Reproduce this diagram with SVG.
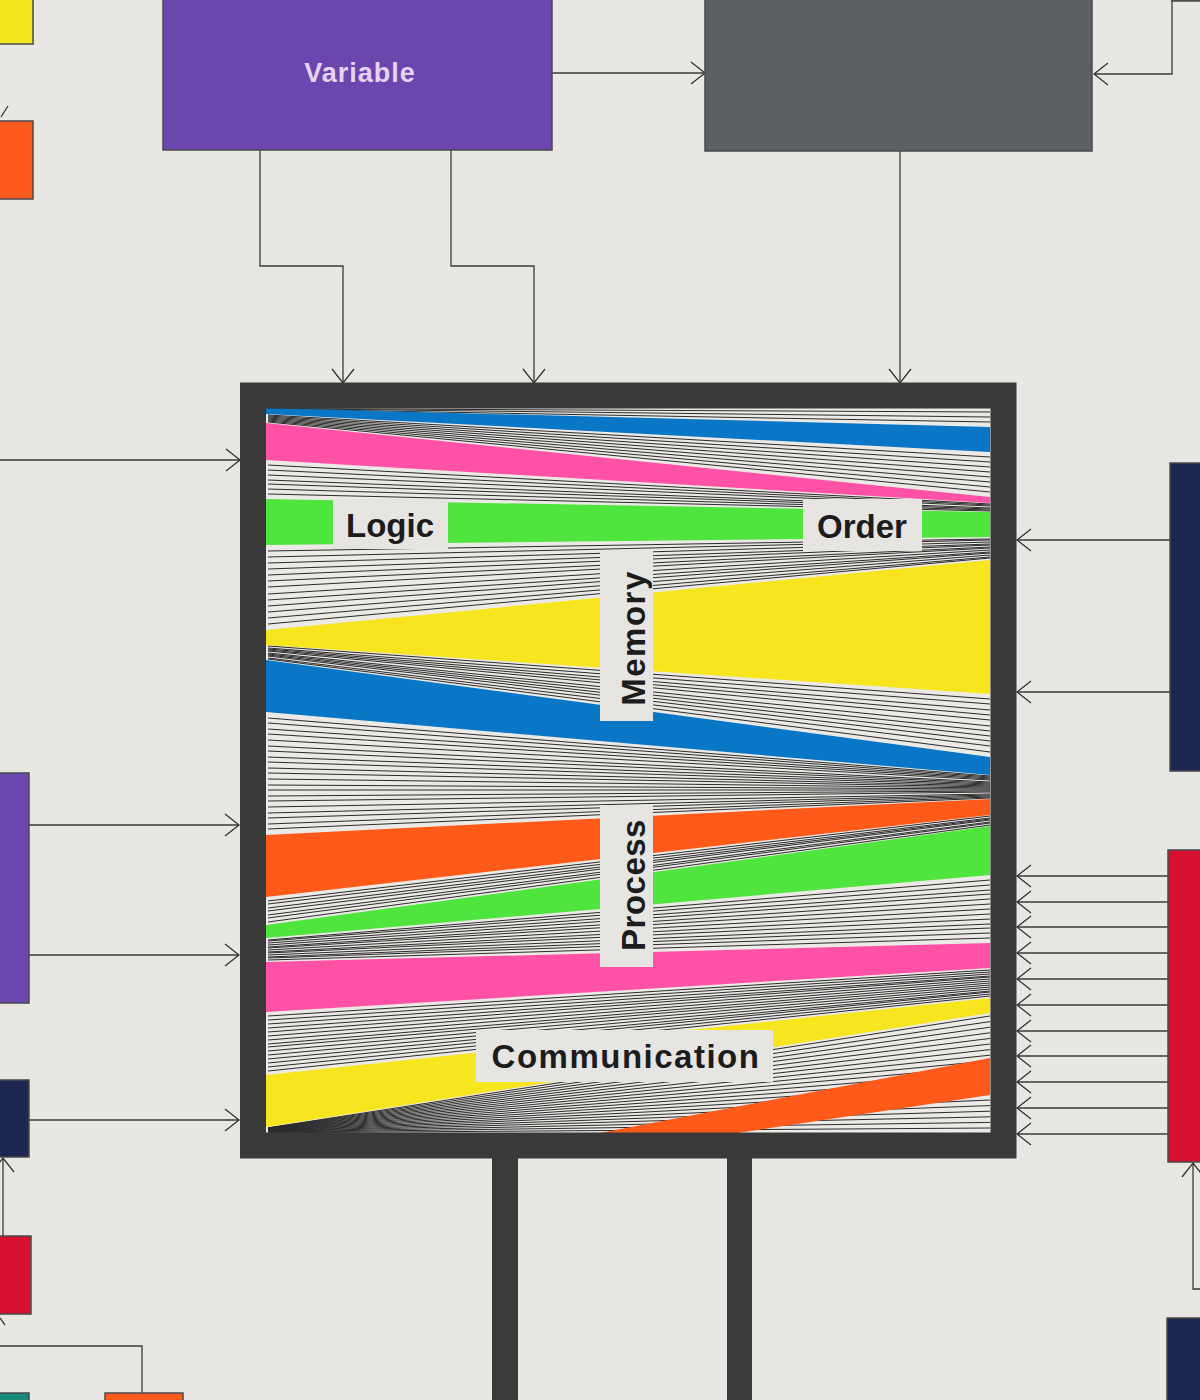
<svg xmlns="http://www.w3.org/2000/svg" width="1200" height="1400" viewBox="0 0 1200 1400">
<defs>
<marker id="ah" viewBox="-16 -12 18 24" refX="0" refY="0" markerWidth="18" markerHeight="24" markerUnits="userSpaceOnUse" orient="auto">
<path d="M-14,-11 L0,0 L-14,11" fill="none" stroke="#333" stroke-width="1.3"/>
</marker>
<style>
.conn{fill:none;stroke:#3a3a3a;stroke-width:1.3}
.arr{marker-end:url(#ah)}
.box{stroke:#4a4a4a;stroke-width:1.5}
.hatch{fill:none;stroke:#2b2b2b;stroke-width:1}
.lbl{fill:#e6e5e2}
.txt{font-family:"Liberation Sans",Arial,sans-serif;font-weight:bold;font-size:33px;fill:#1c1c1c;text-anchor:middle}
.pencil{fill:#3b3b3b}
</style>
</defs>
<rect x="0" y="0" width="1200" height="1400" fill="#e8e7e4"/>

<g id="connectors">
<path class="conn arr" d="M260,150 V266 H343 V383"/>
<path class="conn arr" d="M451,150 V266 H534 V383"/>
<path class="conn arr" d="M900,151 V383"/>
<path class="conn arr" d="M552,73 H705"/>
<path class="conn arr" d="M1172,0 V74 H1094"/>
<path class="conn arr" d="M0,460 H240"/>
<path class="conn arr" d="M29,825 H239"/>
<path class="conn arr" d="M29,955 H239"/>
<path class="conn arr" d="M29,1120 H239"/>
<path class="conn arr" d="M3,1236 V1158"/>
<path class="conn" d="M0,1346 H142 V1393"/>
<path class="conn" d="M1,117 L8,106"/>
<path class="conn" d="M0,1318 L5,1325"/>
<path class="conn arr" d="M1170,540 H1017"/>
<path class="conn arr" d="M1170,692 H1017"/>
<path class="conn arr" d="M1168,876 H1017"/>
<path class="conn arr" d="M1168,902 H1017"/>
<path class="conn arr" d="M1168,927 H1017"/>
<path class="conn arr" d="M1168,953 H1017"/>
<path class="conn arr" d="M1168,979 H1017"/>
<path class="conn arr" d="M1168,1005 H1017"/>
<path class="conn arr" d="M1168,1031 H1017"/>
<path class="conn arr" d="M1168,1056 H1017"/>
<path class="conn arr" d="M1168,1082 H1017"/>
<path class="conn arr" d="M1168,1108 H1017"/>
<path class="conn arr" d="M1168,1134 H1017"/>
<path class="conn arr" d="M1200,1289 H1193 V1163"/>
</g>

<g id="node-yellow-tl"><rect class="box" x="-2" y="-2" width="35" height="46" fill="#f3e61c"/></g>
<g id="node-orange-tl"><rect class="box" x="-2" y="121" width="35" height="78" fill="#ff5a1e"/></g>
<g id="node-variable">
<rect class="box" x="163" y="-2" width="389" height="152" fill="#6b46ae"/>
<text x="360" y="82" font-family="'Liberation Sans',Arial,sans-serif" font-weight="bold" font-size="27" letter-spacing="1" fill="#e8d2ef" text-anchor="middle">Variable</text>
</g>
<g id="node-gray"><rect class="box" x="705" y="-2" width="387" height="153" fill="#5c5f63"/></g>
<g id="node-topright-edge"><rect x="1172" y="-6" width="30" height="7" fill="#5c5f63" class="box"/></g>
<g id="node-purple-left"><rect class="box" x="-2" y="773" width="31" height="230" fill="#6b46ae"/></g>
<g id="node-navy-left"><rect class="box" x="-2" y="1080" width="31" height="77" fill="#1c2651"/></g>
<g id="node-red-left"><rect class="box" x="-2" y="1236" width="33" height="78" fill="#d6102e"/></g>
<g id="node-teal-bl"><rect class="box" x="-2" y="1393" width="31" height="12" fill="#138a7a"/></g>
<g id="node-orange-bl"><rect class="box" x="105" y="1393" width="78" height="12" fill="#ff5a1e"/></g>
<g id="node-navy-right"><rect class="box" x="1170" y="463" width="32" height="308" fill="#1c2651"/></g>
<g id="node-red-right"><rect class="box" x="1168" y="850" width="34" height="312" fill="#d6102e"/></g>
<g id="node-navy-br"><rect class="box" x="1167" y="1318" width="35" height="90" fill="#1c2651"/></g>

<g id="node-main">
<rect x="266" y="408" width="724" height="725" fill="#eceae7"/>
<g class="hatch">
<path d="M268,408.5L990,412M268,408.5L990,417M268,409L990,422"/>
<path d="M268,415L990,457M268,416L990,462M268,417L990,467M268,418L990,472M268,419L990,477M268,420L990,482M268,421L990,487M268,422L990,492"/>
<path d="M268,465L990,504M268,470L990,505M268,475L990,506M268,480L990,508M268,484L990,509M268,489L990,510M268,494L990,511"/>
<path d="M268,551L990,539M268,557L990,540M268,563L990,542M268,569L990,544M268,575L990,545M268,581L990,547M268,587L990,548M268,594L990,550M268,600L990,552M268,606L990,553M268,612L990,555M268,618L990,557M268,624L990,558"/>
<path d="M268,646L990,699M268,648L990,704M268,649L990,710M268,650L990,715M268,651L990,720M268,653L990,726M268,654L990,731M268,655L990,736M268,656L990,741M268,658L990,746M268,659L990,752"/>
<path d="M268,718L990,776M268,723L990,777M268,729L990,778M268,734L990,779M268,740L990,780M268,746L990,782M268,751L990,783M268,757L990,784M268,762L990,785M268,768L990,786M268,773L990,787M268,779L990,788M268,785L990,789M268,790L990,790M268,796L990,791M268,801L990,792M268,807L990,794M268,813L990,795M268,818L990,796M268,824L990,797M268,829L990,798"/>
<path d="M268,901L990,816M268,904L990,818M268,908L990,819M268,911L990,820M268,915L990,822M268,918L990,823M268,922L990,825"/>
<path d="M268,940L990,880M268,941L990,885M268,943L990,890M268,945L990,894M268,947L990,899M268,948L990,904M268,950L990,909M268,952L990,914M268,953L990,919M268,955L990,924M268,957L990,928M268,958L990,933M268,960L990,938"/>
<path d="M268,1016L990,970M268,1020L990,972M268,1024L990,974M268,1028L990,976M268,1032L990,977M268,1036L990,979M268,1040L990,981M268,1044L990,983M268,1047L990,985M268,1051L990,987M268,1055L990,989M268,1059L990,991M268,1063L990,992M268,1067L990,994M268,1071L990,996"/>
<path d="M268,1127.8L990,1016M268,1128L990,1021.6M268,1128.3L990,1027.2M268,1128.5L990,1032.8M268,1128.8L990,1038.4M268,1129L990,1044M268,1129.3L990,1049.6M268,1129.5L990,1055.2M268,1129.8L990,1060.8M268,1130L990,1066.4M268,1130.3L990,1072M268,1130.5L990,1077.6M268,1130.8L990,1083.2M268,1131L990,1088.8M268,1131.3L990,1094.4M268,1131.5L990,1100M268,1131.8L990,1105.6M268,1132L990,1111.2M268,1132.3L990,1116.8M268,1132.5L990,1122.4M268,1132.8L990,1128"/>
</g>
<polygon points="266,408 990,427 990,452 266,414" fill="#0a77c6"/>
<polygon points="266,423 990,497 990,503 266,460" fill="#ff52a6"/>
<polygon points="266,499 990,512 990,537 266,545" fill="#50e43e"/>
<polygon points="266,630 990,560 990,694 266,645" fill="#f7e520"/>
<polygon points="266,660 990,757 990,775 266,712" fill="#0a77c6"/>
<polygon points="266,835 990,799 990,815 266,897" fill="#ff5a1a"/>
<polygon points="266,925 990,826 990,875 266,938" fill="#50e43e"/>
<polygon points="266,962 990,943 990,968 266,1012" fill="#ff52a6"/>
<polygon points="266,1075 990,998 990,1013 266,1127" fill="#f7e520"/>
<polygon points="600,1133 990,1058 990,1095 737,1133" fill="#ff5a1a"/>
<rect class="lbl" x="333" y="499" width="115" height="50"/>
<text class="txt" x="390" y="537">Logic</text>
<rect class="lbl" x="803" y="499" width="119" height="52"/>
<text class="txt" x="862" y="538" font-size="34">Order</text>
<rect class="lbl" x="600" y="550" width="53" height="171"/>
<text class="txt" transform="translate(645,638) rotate(-90)" x="0" y="0" font-size="35" letter-spacing="1.5">Memory</text>
<rect class="lbl" x="600" y="805" width="53" height="162"/>
<text class="txt" transform="translate(645,885) rotate(-90)" x="0" y="0" font-size="34" letter-spacing="0.5">Process</text>
<rect class="lbl" x="476" y="1030" width="297" height="52"/>
<text class="txt" x="626" y="1068" font-size="34" letter-spacing="1.5">Communication</text>
<rect x="253" y="395.5" width="750.5" height="750" fill="none" stroke="#393939" stroke-width="26"/>
<rect class="pencil" x="492" y="1158" width="26" height="245"/>
<rect class="pencil" x="727" y="1158" width="25" height="245"/>
</g>
</svg>
